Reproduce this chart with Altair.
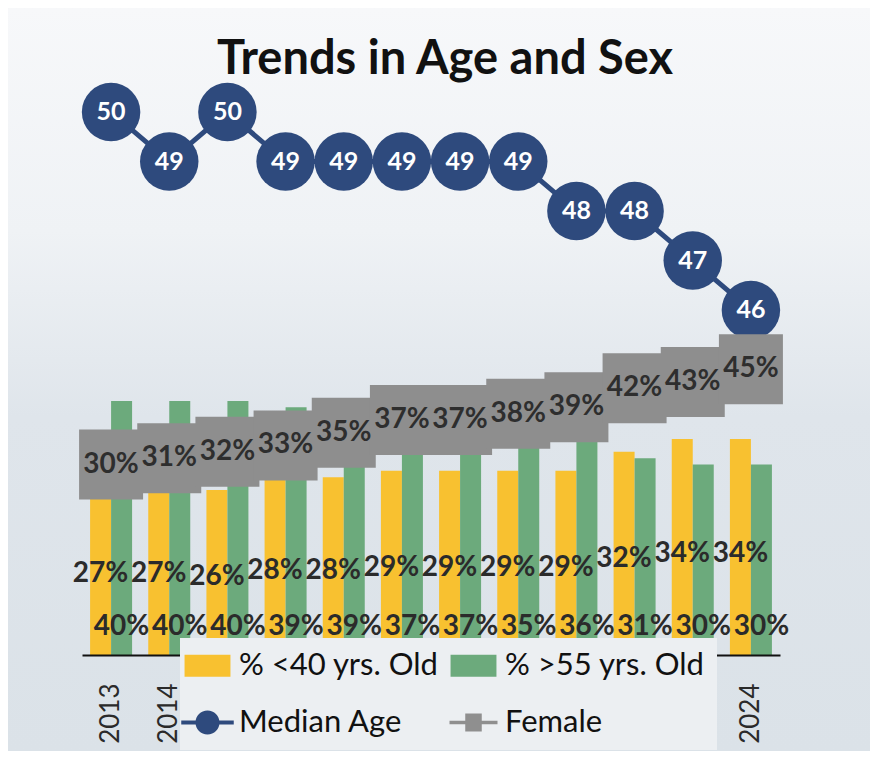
import altair as alt
import pandas as pd

years = [str(y) for y in range(2013, 2025)]
median_age = [50, 49, 50, 49, 49, 49, 49, 49, 48, 48, 47, 46]
female = [30, 31, 32, 33, 35, 37, 37, 38, 39, 42, 43, 45]
under40 = [27, 27, 26, 28, 28, 29, 29, 29, 29, 32, 34, 34]
over55 = [40, 40, 40, 39, 39, 37, 37, 35, 36, 31, 30, 30]

series_names = ["% <40 yrs. Old", "% >55 yrs. Old", "Median Age", "Female"]
series_colors = ["#f8c130", "#6caa7c", "#2e4a7d", "#8f8f8f"]

bars_df = pd.DataFrame({
    "year": years * 2,
    "series": [series_names[0]] * len(years) + [series_names[1]] * len(years),
    "value": under40 + over55,
})
bars_df["label"] = bars_df["value"].map(lambda v: f"{v}%")
bars_df["mid"] = bars_df["value"] * 0.47

lines_df = pd.DataFrame({"year": years, "age": median_age, "female": female})
lines_df["female_label"] = lines_df["female"].map(lambda v: f"{v}%")
lines_df["age_label"] = lines_df["age"].astype(str)

W, H = 698, 635
PAD = {"left": 74, "top": 12, "right": 90, "bottom": 96}
FONT = "Lato"

RECT_PATH = "M-1.53,-0.73H1.53V0.73H-1.53Z"
MED_PATH = "M-1.75,-0.13H1.75V0.13H-1.75Z M-0.8,0 A0.8,0.8 0 1,1 0.8,0 A0.8,0.8 0 1,1 -0.8,0Z"
FEM_PATH = "M-1.6,-0.12H1.6V0.12H-1.6Z M-0.55,-0.6H0.55V0.6H-0.55Z"
shape_expr = ("datum.value === 'Median Age' ? '" + MED_PATH + "' : datum.value === 'Female' ? '"
              + FEM_PATH + "' : '" + RECT_PATH + "'")

x_enc = alt.X(
    "year:N",
    scale=alt.Scale(paddingInner=0, paddingOuter=0),
    axis=alt.Axis(title=None, labelAngle=-90, labelFont=FONT, labelFontSize=26,
                  labelColor="#2a2a2a", labelPadding=28, ticks=False,
                  domainColor="#111111", domainWidth=2, zindex=1),
)
pct_scale = alt.Scale(domain=[0, 100])
age_scale = alt.Scale(domain=[39.03, 51.86], zero=False)
xoff = alt.XOffset("series:N", scale=alt.Scale(domain=series_names[:2], paddingInner=0, paddingOuter=0.385))

legend = alt.Legend(
    title=None, orient="none", legendX=98, legendY=618, columns=2, direction="horizontal",
    labelFont=FONT, labelFontSize=31, labelColor="#111111", labelLimit=400,
    symbolSize=900, symbolStrokeWidth=0, fillColor="#eceff2", padding=12,
    rowPadding=25, columnPadding=10, labelOffset=16, zindex=3,
    symbolType=alt.ExprRef(shape_expr),
)

bg = alt.Chart(pd.DataFrame({"a": [0]})).mark_rect(
    color=alt.LinearGradient(
        gradient="linear", x1=0, x2=0, y1=0, y2=1,
        stops=[alt.GradientStop(color="#f7f8fa", offset=0),
               alt.GradientStop(color="#eff2f5", offset=0.3),
               alt.GradientStop(color="#dfe5eb", offset=0.55),
               alt.GradientStop(color="#dbe2e8", offset=1)])
).encode(x=alt.value(-PAD["left"]), x2=alt.value(W + PAD["right"]),
         y=alt.value(-PAD["top"]), y2=alt.value(H + PAD["bottom"]))

bar_layer = alt.Chart(bars_df).mark_bar().encode(
    x=x_enc, xOffset=xoff,
    y=alt.Y("value:Q", scale=pct_scale, axis=None),
    color=alt.Color("series:N", scale=alt.Scale(domain=series_names, range=series_colors), legend=legend),
)

age_line = alt.Chart(lines_df).mark_line(color="#2e4a7d", strokeWidth=5).encode(
    x=x_enc, y=alt.Y("age:Q", scale=age_scale, axis=None))
age_pts = alt.Chart(lines_df).mark_circle(color="#2e4a7d", size=3420, opacity=1).encode(
    x=x_enc, y=alt.Y("age:Q", scale=age_scale, axis=None))
age_txt = alt.Chart(lines_df).mark_text(font=FONT, fontSize=25, fontWeight="bold", color="white", baseline="middle").encode(
    x=x_enc, y=alt.Y("age:Q", scale=age_scale, axis=None), text="age_label:N")

fem_band = alt.Chart(lines_df).mark_tick(color="#8e8e8e", thickness=70, size=64, opacity=1).encode(
    x=x_enc, y=alt.Y("female:Q", scale=pct_scale, axis=None))
fem_txt = alt.Chart(lines_df).mark_text(font=FONT, fontSize=28, fontWeight="bold", color="#2e2e2e", baseline="middle").encode(
    x=x_enc, y=alt.Y("female:Q", scale=pct_scale, axis=None), text="female_label:N")

u40_txt = alt.Chart(bars_df).transform_filter(alt.datum.series == series_names[0]).mark_text(
    font=FONT, fontSize=28, fontWeight="bold", color="#2b2b2b", baseline="middle").encode(
    x=x_enc, xOffset=xoff, y=alt.Y("mid:Q", scale=pct_scale, axis=None), text="label:N")
o55_txt = alt.Chart(bars_df).transform_filter(alt.datum.series == series_names[1]).mark_text(
    font=FONT, fontSize=28, fontWeight="bold", color="#2b2b2b", baseline="middle").encode(
    x=x_enc, xOffset=xoff, y=alt.value(H - 28), text="label:N")

chart = alt.layer(
    bg, bar_layer, age_line, age_pts, age_txt, fem_band, fem_txt, u40_txt, o55_txt
).resolve_scale(y="independent").properties(
    width=W, height=H,
    title=alt.TitleParams("Trends in Age and Sex", font=FONT, fontSize=47, fontWeight="bold",
                          color="#111111", anchor="middle", offset=0, dy=76, dx=14),
    padding=PAD, autosize=alt.AutoSizeParams(type="none"),
).configure_view(stroke=None).configure(background="#e3e8ec")

chart.save("out.html", embed_options={"renderer": "svg", "actions": False})
